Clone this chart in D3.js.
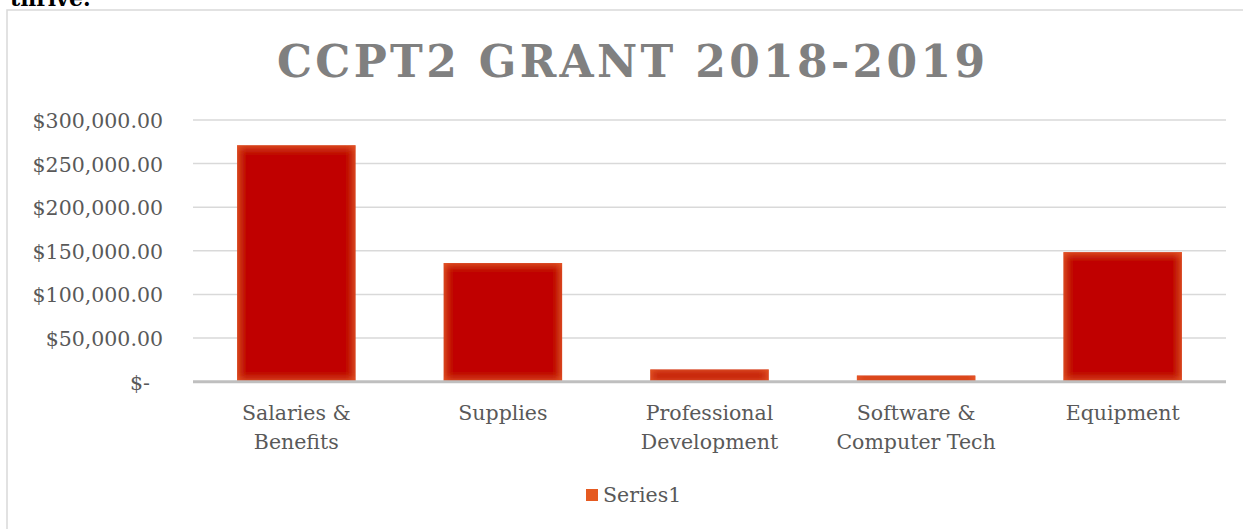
<!DOCTYPE html>
<html lang="en">
<head>
<meta charset="utf-8">
<title>CCPT2 Grant 2018-2019</title>
<script src="https://d3js.org/d3.v7.min.js"></script>
<style>
  body { margin: 0; background: #fff; }
  svg { display: block; }
  text { font-family: "DejaVu Serif", serif; }
</style>
</head>
<body>
<div id="chart"></div>
<script>
// chart data
var categories = [["Salaries &", "Benefits"], ["Supplies"], ["Professional", "Development"], ["Software &", "Computer Tech"], ["Equipment"]];
var values = [271000, 136000, 14000, 7000, 148500];
var tickValues = [0, 50000, 100000, 150000, 200000, 250000, 300000];
var seriesName = "Series1";
var title = "CCPT2 GRANT 2018-2019";

var width = 1243, height = 529;
var plot = {left: 193, right: 1226, top: 120, bottom: 381.7};

var svg = d3.select("#chart").append("svg")
  .attr("width", width)
  .attr("height", height);

// inner glow for the bars
var defs = svg.append("defs");
var glow = defs.append("filter")
  .attr("id", "glow")
  .attr("filterUnits", "userSpaceOnUse")
  .attr("x", 0).attr("y", 0).attr("width", width).attr("height", height);
glow.append("feFlood").attr("flood-color", "#f0602a").attr("result", "flood");
glow.append("feComposite").attr("in", "flood").attr("in2", "SourceAlpha").attr("operator", "out").attr("result", "outside");
glow.append("feGaussianBlur").attr("in", "outside").attr("stdDeviation", 5).attr("result", "blur");
glow.append("feComposite").attr("in", "blur").attr("in2", "SourceAlpha").attr("operator", "in").attr("result", "inner");
var merge = glow.append("feMerge");
merge.append("feMergeNode").attr("in", "SourceGraphic");
merge.append("feMergeNode").attr("in", "inner");

// cut off text from the page above
svg.append("text")
  .attr("x", 10).attr("y", 6)
  .attr("font-size", 22).attr("font-weight", "bold")
  .attr("fill", "#000")
  .text("thrive.");

// chart frame
svg.append("rect")
  .attr("x", 7).attr("y", 10)
  .attr("width", 1250).attr("height", 540)
  .attr("fill", "#fff")
  .attr("stroke", "#d9d9d9").attr("stroke-width", 1.5);

// title
svg.append("text")
  .attr("x", 277).attr("y", 77)
  .attr("font-size", 44).attr("font-weight", "bold")
  .attr("fill", "#808080")
  .attr("textLength", 708).attr("lengthAdjust", "spacing")
  .text(title);

var x = d3.scaleBand()
  .domain(d3.range(categories.length))
  .range([plot.left, plot.right])
  .paddingInner(0.427)
  .paddingOuter(0.2135);

var y = d3.scaleLinear()
  .domain([0, 300000])
  .range([plot.bottom, plot.top]);

// gridlines
svg.append("g")
  .selectAll("line")
  .data(tickValues.slice(1))
  .enter().append("line")
  .attr("x1", plot.left).attr("x2", plot.right)
  .attr("y1", function(d) { return y(d); })
  .attr("y2", function(d) { return y(d); })
  .attr("stroke", "#d9d9d9").attr("stroke-width", 1.5);

// y axis labels
var fmt = d3.format(",.2f");
var yAxis = d3.axisLeft(y)
  .tickValues(tickValues)
  .tickSize(0)
  .tickPadding(0)
  .tickFormat(function(d) { return d === 0 ? "$-" : "$" + fmt(d); });

var yg = svg.append("g")
  .attr("transform", "translate(163,0)")
  .call(yAxis);
yg.select(".domain").remove();
yg.selectAll("text")
  .attr("font-family", "DejaVu Serif")
  .attr("font-size", 20.5)
  .attr("fill", "#595959")
  .attr("dy", "0.36em")
  .attr("dx", function(d) { return d === 0 ? -13 : 0; });

// bars
svg.append("g")
  .selectAll("rect")
  .data(values)
  .enter().append("rect")
  .attr("x", function(d, i) { return x(i); })
  .attr("y", function(d) { return y(d); })
  .attr("width", x.bandwidth())
  .attr("height", function(d) { return plot.bottom - y(d); })
  .attr("fill", "#c00000")
  .attr("filter", "url(#glow)");

// category axis line
svg.append("line")
  .attr("x1", plot.left).attr("x2", plot.right)
  .attr("y1", plot.bottom).attr("y2", plot.bottom)
  .attr("stroke", "#bfbfbf").attr("stroke-width", 3);

// category labels
var labels = svg.append("g")
  .selectAll("text")
  .data(categories)
  .enter().append("text")
  .attr("text-anchor", "middle")
  .attr("font-size", 20.5)
  .attr("fill", "#595959")
  .attr("x", function(d, i) { return x(i) + x.bandwidth() / 2; })
  .attr("y", 420);
labels.selectAll("tspan")
  .data(function(d) { return d; })
  .enter().append("tspan")
  .attr("x", function() { return d3.select(this.parentNode).attr("x"); })
  .attr("dy", function(d, i) { return i === 0 ? 0 : 29; })
  .text(function(d) { return d; });

// legend
var legend = svg.append("g");
legend.append("rect")
  .attr("x", 586).attr("y", 489)
  .attr("width", 12).attr("height", 12)
  .attr("fill", "#e55a21");
legend.append("text")
  .attr("x", 603).attr("y", 502)
  .attr("font-size", 20.5)
  .attr("fill", "#595959")
  .text(seriesName);
</script>
</body>
</html>
